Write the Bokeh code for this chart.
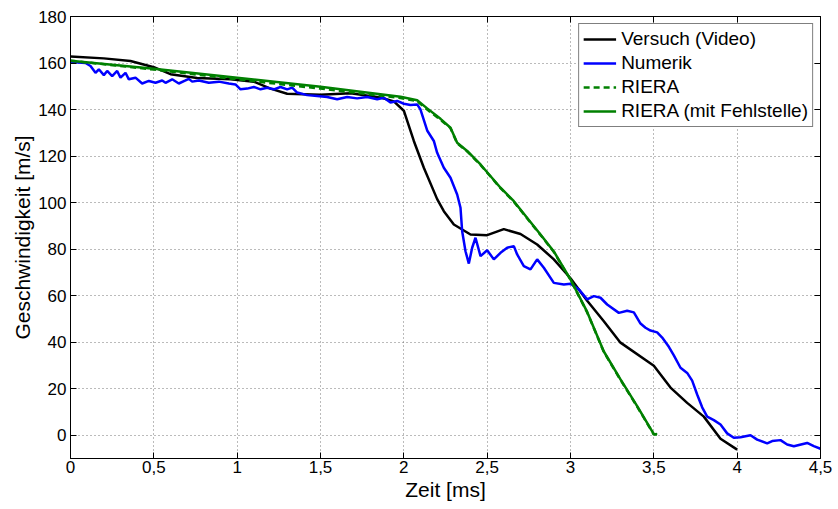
from bokeh.plotting import figure
from bokeh.models import FixedTicker, LinearAxis, Range1d, CustomLabelingPolicy
from bokeh.embed import file_html
from bokeh.resources import INLINE

# --- data ---
video_t = [0, 0.2, 0.36, 0.5, 0.6, 0.76, 0.96, 1.1, 1.2, 1.3, 1.5, 1.68, 1.86, 1.94, 2.0,
           2.06, 2.12, 2.2, 2.24, 2.3, 2.4, 2.5, 2.6, 2.7, 2.8, 2.9, 3.0, 3.1, 3.2, 3.3,
           3.5, 3.6, 3.7, 3.8, 3.9, 4.0]
video_v = [162.8, 162, 160.9, 158.2, 155.2, 153.6, 153, 152, 149, 146.8, 146.4, 147, 145.2,
           143.5, 139.5, 126.5, 115, 101.5, 96.3, 90.6, 86.3, 86, 88.6, 86.5, 82, 75.6, 67.5,
           57.8, 49, 39.8, 29.9, 20.5, 13.9, 8, -1.5, -6.2]

num_t = [0, 0.09, 0.12, 0.15, 0.17, 0.2, 0.22, 0.25, 0.28, 0.3, 0.33, 0.35, 0.39, 0.43, 0.47,
         0.51, 0.55, 0.57, 0.61, 0.65, 0.69, 0.71, 0.73, 0.77, 0.83, 0.89, 0.95, 0.99, 1.02,
         1.06, 1.1, 1.14, 1.18, 1.22, 1.26, 1.3, 1.33, 1.36, 1.42, 1.48, 1.54, 1.6, 1.66, 1.72,
         1.78, 1.84, 1.88, 1.92, 1.96, 2.0, 2.04, 2.08, 2.1, 2.14, 2.18, 2.2, 2.24, 2.28, 2.32,
         2.34, 2.35, 2.37, 2.39, 2.41, 2.43, 2.46, 2.5, 2.54, 2.58, 2.62, 2.66, 2.68, 2.72,
         2.76, 2.8, 2.84, 2.9, 2.96, 3.0, 3.05, 3.1, 3.14, 3.18, 3.22, 3.29, 3.34, 3.38, 3.42,
         3.45, 3.48, 3.52, 3.55, 3.59, 3.62, 3.66, 3.7, 3.73, 3.76, 3.79, 3.82, 3.86, 3.9,
         3.94, 3.98, 4.02, 4.08, 4.12, 4.18, 4.21, 4.26, 4.3, 4.34, 4.42, 4.46, 4.5]
num_v = [160.4, 160, 158.7, 155.8, 157.3, 154.8, 156.6, 154.4, 156.6, 153.7, 155.8, 153,
         153.7, 151.2, 152.3, 151.5, 152.5, 151.5, 153, 151.2, 152.5, 153.2, 152, 152.5,
         151.5, 152, 151.2, 150.8, 148.7, 149, 149.7, 148.7, 149.4, 148.7, 149.7, 148.7,
         149.4, 147.3, 146.2, 145.8, 145.4, 144.4, 145.4, 144.8, 145.4, 144.4, 145.1, 143,
         143.7, 142.5, 142, 142.2, 140, 131, 126.5, 121.4, 115, 110.7, 103.5, 97.8, 87.7,
         79.1, 73.8, 80.6, 84.9, 77, 79.5, 75.6, 78.4, 80.6, 81.3, 77.7, 72.7, 71.3, 75.6,
         72, 65.5, 64.8, 65.1, 62.7, 58.4, 59.8, 59.1, 56.2, 52.6, 53.5, 52.8, 48, 46.2, 45,
         44.2, 42, 38, 34.3, 29, 26.8, 23.5, 17.5, 12, 8, 6.5, 4.6, 0.8, -1.1, -0.9, 0,
         -1.9, -3.5, -2.5, -2.1, -4, -4.7, -3.3, -4.7, -5.8]

riera_t = [0, 0.5, 1.0, 1.5, 1.98, 2.08, 2.14, 2.22, 2.28, 2.32, 2.38, 2.46, 2.58, 2.66,
           2.75, 2.82, 2.9, 3.0, 3.1, 3.2, 3.3, 3.4, 3.5, 3.52]
riera_v = [161, 157.2, 153, 149, 145, 143.6, 140, 135.6, 132, 125.5, 122, 116.2, 106.2,
           100.4, 92.3, 86.1, 78.8, 66.8, 52.8, 35.8, 23.8, 12.3, 0.3, 0.6]

fehl_t = [0, 0.5, 1.0, 1.5, 1.98, 2.08, 2.14, 2.22, 2.28, 2.32, 2.38, 2.46, 2.58, 2.66,
          2.75, 2.82, 2.9, 3.0, 3.1, 3.2, 3.3, 3.4, 3.5, 3.52]
fehl_v = [161, 157.5, 153.7, 149.8, 145.5, 144, 140.5, 136, 132.2, 125.7, 122.2, 116.4,
          106.4, 100.6, 92.5, 86.3, 79, 67, 53, 36, 24, 12.5, 0.5, 0.3]

x_ticks = [0, 0.5, 1, 1.5, 2, 2.5, 3, 3.5, 4, 4.5]
x_tick_labels = ["0", "0,5", "1", "1,5", "2", "2,5", "3", "3,5", "4", "4,5"]
y_ticks = [0, 20, 40, 60, 80, 100, 120, 140, 160, 180]

FONT = "Liberation Sans"

p = figure(width=838, height=503, output_backend="svg", toolbar_location=None,
           x_range=Range1d(0, 4.5), y_range=Range1d(-10, 180),
           min_border_left=70, min_border_right=18, min_border_top=16, min_border_bottom=44)
p.background_fill_color = "white"
p.border_fill_color = "white"
p.outline_line_color = "black"
p.outline_line_width = 1

p.xaxis.ticker = FixedTicker(ticks=x_ticks)
p.yaxis.ticker = FixedTicker(ticks=y_ticks)
p.xaxis.major_label_overrides = {t: l for t, l in zip(x_ticks, x_tick_labels)}
p.xaxis.axis_label = "Zeit [ms]"
p.yaxis.axis_label = "Geschwindigkeit [m/s]"
for ax in (p.xaxis[0], p.yaxis[0]):
    ax.axis_line_color = "black"
    ax.major_tick_in = 6
    ax.major_tick_out = 0
    ax.minor_tick_line_color = None
    ax.major_label_text_font = FONT
    ax.major_label_text_font_size = "17px"
    ax.major_label_text_color = "black"
    ax.axis_label_text_font = FONT
    ax.axis_label_text_font_size = "21px"
    ax.axis_label_text_font_style = "normal"
    ax.axis_label_text_color = "black"
p.xaxis.major_label_standoff = 2
p.xaxis.axis_label_standoff = 2
p.yaxis.major_label_standoff = 4
p.yaxis.axis_label_standoff = 1

# mirrored axes (tick marks only, no labels)
hide_all = CustomLabelingPolicy(
    code="const n = indices.size; for (let i = 0; i < n; i++) { indices.unset(i) } return indices")
for loc, tick in (("right", y_ticks), ("above", x_ticks)):
    ax = LinearAxis(ticker=FixedTicker(ticks=tick), major_tick_in=6, major_tick_out=0,
                    minor_tick_line_color=None, axis_line_color="black",
                    major_label_standoff=0, major_label_policy=hide_all,
                    major_label_text_font_size="1px")
    p.add_layout(ax, loc)

p.xgrid.ticker = FixedTicker(ticks=x_ticks)
p.ygrid.ticker = FixedTicker(ticks=y_ticks)
for g in (p.xgrid[0], p.ygrid[0]):
    g.grid_line_color = "#777777"
    g.grid_line_dash = "1 3"
    g.grid_line_width = 1

p.line(video_t, video_v, line_color="black", line_width=2.5, legend_label="Versuch (Video)")
p.line(num_t, num_v, line_color="#0000ff", line_width=2.5, legend_label="Numerik")
p.line(riera_t, riera_v, line_color="#008000", line_width=2.5, line_dash="6 4",
       legend_label="RIERA")
p.line(fehl_t, fehl_v, line_color="#008000", line_width=2.5,
       legend_label="RIERA (mit Fehlstelle)")

lg = p.legend[0]
lg.location = "top_right"
lg.margin = 7
lg.padding = 4
lg.spacing = 2
lg.label_height = 22
lg.glyph_height = 22
lg.glyph_width = 33
lg.label_standoff = 5
lg.label_text_font = FONT
lg.label_text_font_size = "19px"
lg.label_text_color = "black"
lg.border_line_color = "black"
lg.border_line_width = 1
lg.background_fill_color = "white"
lg.background_fill_alpha = 1.0

open("out.html", "w").write(file_html(p, INLINE))
